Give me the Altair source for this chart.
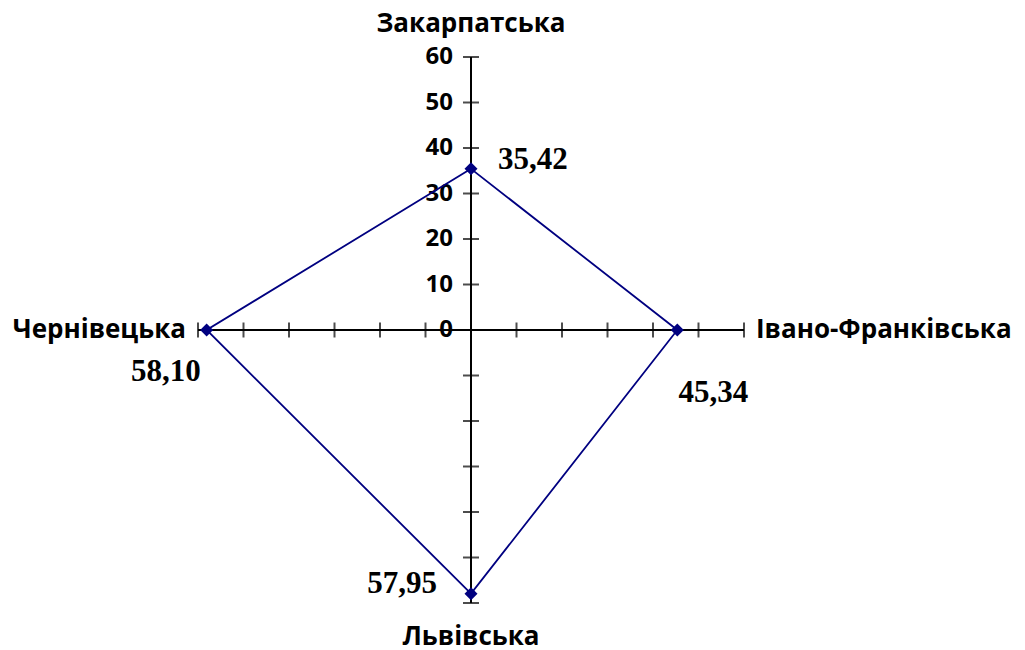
import altair as alt
import numpy as np
import pandas as pd

# ---- data ----
regions = ["Закарпатська", "Івано-Франківська", "Львівська", "Чернівецька"]
values = [35.42, 45.34, 57.95, 58.10]
value_labels = ["35,42", "45,34", "57,95", "58,10"]
angles_deg = [90, 0, 270, 180]          # spoke direction for each region
axis_max = 60
tick_values = [0, 10, 20, 30, 40, 50, 60]

ang = np.deg2rad(angles_deg)
pts = pd.DataFrame({
    "region": regions,
    "value": values,
    "label": value_labels,
    "x": np.round(np.array(values) * np.cos(ang), 6),
    "y": np.round(np.array(values) * np.sin(ang), 6),
    "ex": np.round(axis_max * np.cos(ang), 6),
    "ey": np.round(axis_max * np.sin(ang), 6),
})
pts["order"] = range(len(pts))
poly = pd.concat([pts, pts.iloc[[0]].assign(order=len(pts))], ignore_index=True)

spokes = pd.DataFrame({"x": [-axis_max, 0], "x2": [axis_max, 0],
                       "y": [0, -axis_max], "y2": [0, axis_max]})
steps = [t for t in range(-axis_max, axis_max + 1, 10) if t != 0]
hticks = pd.DataFrame({"x": steps, "y": [0] * len(steps)})
vticks = pd.DataFrame({"x": [0] * len(steps), "y": steps})
tlabels = pd.DataFrame({"x": [0] * len(tick_values), "y": tick_values,
                        "t": [str(t) for t in tick_values]})

W = 546
xs = alt.Scale(domain=[-axis_max, axis_max])
ys = alt.Scale(domain=[-axis_max, axis_max])
X = lambda f: alt.X(f, type="quantitative", scale=xs, axis=None)
Y = lambda f: alt.Y(f, type="quantitative", scale=ys, axis=None)

NAVY = "#000080"
SANS = "Open Sans"
SERIF = "Liberation Serif"

axes = alt.Chart(spokes).mark_rule(color="black", strokeWidth=2).encode(
    x=X("x"), x2="x2", y=Y("y"), y2="y2")
ht = alt.Chart(hticks).mark_tick(orient="vertical", size=15, thickness=2,
                                 color="black").encode(x=X("x"), y=Y("y"))
vt = alt.Chart(vticks).mark_tick(orient="horizontal", size=16, thickness=2,
                                 color="black").encode(x=X("x"), y=Y("y"))
tl = alt.Chart(tlabels).mark_text(align="right", baseline="middle", dx=-18,
                                  font=SANS, fontSize=24, fontWeight="bold",
                                  color="black").encode(
    x=X("x"), y=Y("y"), text="t:N")

line = alt.Chart(poly).mark_line(color=NAVY, strokeWidth=1.8).encode(
    x=X("x"), y=Y("y"), order="order:Q")
points = alt.Chart(pts).mark_point(shape="diamond", filled=True, size=170,
                                   color=NAVY, opacity=1).encode(
    x=X("x"), y=Y("y"))

# category label placement (style only)
cat_style = {
    "Закарпатська": dict(align="center", dx=0, dy=-33),
    "Івано-Франківська": dict(align="left", dx=12, dy=0),
    "Львівська": dict(align="center", dx=0, dy=34),
    "Чернівецька": dict(align="right", dx=-12, dy=0),
}
val_style = {
    "Закарпатська": dict(align="left", dx=27, dy=-9),
    "Івано-Франківська": dict(align="center", dx=36, dy=63),
    "Львівська": dict(align="right", dx=-34, dy=-10),
    "Чернівецька": dict(align="right", dx=-6, dy=42),
}

layers = [axes, ht, vt, tl, line, points]
for r in regions:
    s = cat_style[r]
    layers.append(alt.Chart(pts).transform_filter(alt.datum.region == r)
                  .mark_text(baseline="middle", font=SANS, fontSize=26,
                             fontWeight="bold", color="black", **s)
                  .encode(x=X("ex"), y=Y("ey"), text="region:N"))
    v = val_style[r]
    layers.append(alt.Chart(pts).transform_filter(alt.datum.region == r)
                  .mark_text(baseline="middle", font=SERIF, fontSize=31,
                             fontWeight="bold", color="black", **v)
                  .encode(x=X("x"), y=Y("y"), text="label:N"))

chart = alt.layer(*layers).properties(
    width=W, height=W,
    autosize=alt.AutoSizeParams(type="none"),
    padding={"left": 190, "top": 49, "right": 270, "bottom": 47},
    background="white",
).configure_view(strokeWidth=0)

chart.save("out.html", embed_options={"renderer": "svg", "actions": False})
